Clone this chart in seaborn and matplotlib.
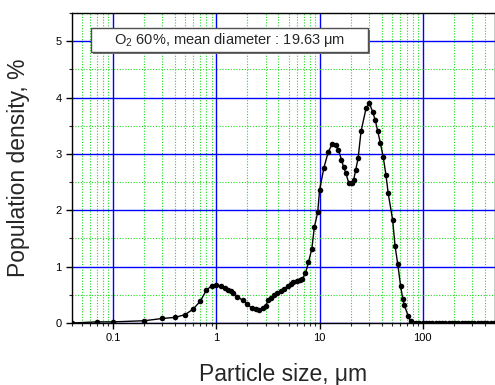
import numpy as np
import pandas as pd
import matplotlib
matplotlib.use("Agg")
import matplotlib.pyplot as plt
import seaborn as sns
from matplotlib.ticker import LogLocator, MultipleLocator, NullFormatter
from matplotlib.patches import Rectangle

# Particle size distribution
size_um = [0.04, 0.07, 0.1, 0.2, 0.3, 0.4, 0.5, 0.6, 0.7, 0.8, 0.9, 1.0,
           1.1, 1.2, 1.3, 1.4, 1.45, 1.6, 1.8, 2.0, 2.2, 2.4, 2.6, 2.8,
           3.0, 3.2, 3.4, 3.6, 3.9, 4.2, 4.5, 4.9, 5.3, 5.5, 6.0, 6.4,
           6.8, 7.3, 7.8, 8.4, 8.9, 9.6, 10.0, 11.0, 12.1, 13.2, 14.3,
           15.2, 16.3, 17.1, 17.9, 19.2, 20.4, 21.4, 22.4, 23.6, 25.2,
           28.2, 30.4, 32.6, 34.6, 36.5, 38.8, 41.3, 43.9, 46.2, 51.0,
           53.8, 57.2, 61.0, 64.0, 66.0, 72.0, 76.0,
           80, 86, 92, 100, 107, 115, 124, 133, 143, 154, 165, 178, 191,
           205, 221, 237, 255, 274, 294, 316, 340, 365, 392, 421, 453, 487]
density = [0.0, 0.02, 0.02, 0.04, 0.08, 0.10, 0.15, 0.25, 0.39, 0.58, 0.66, 0.68,
           0.65, 0.62, 0.59, 0.56, 0.54, 0.47, 0.40, 0.34, 0.26, 0.24, 0.23, 0.26,
           0.31, 0.40, 0.45, 0.49, 0.53, 0.57, 0.61, 0.65, 0.70, 0.72, 0.75, 0.77,
           0.78, 0.88, 1.08, 1.31, 1.70, 1.97, 2.36, 2.75, 3.03, 3.17, 3.16,
           3.07, 2.90, 2.76, 2.67, 2.48, 2.49, 2.54, 2.72, 2.92, 3.40,
           3.81, 3.90, 3.75, 3.60, 3.41, 3.19, 2.95, 2.63, 2.30, 1.83,
           1.37, 1.04, 0.65, 0.42, 0.32, 0.13, 0.03,
           0.0, 0.0, 0.0, 0.0, 0.0, 0.0, 0.0, 0.0, 0.0, 0.0, 0.0, 0.0, 0.0,
           0.0, 0.0, 0.0, 0.0, 0.0, 0.0, 0.0, 0.0, 0.0, 0.0, 0.0, 0.0, 0.0]

x_ticks = [0.1, 1, 10, 100]
x_labels = ["0.1", "1", "10", "100"]
y_ticks = [0, 1, 2, 3, 4, 5]
note = r"O$_\mathregular{2}$ 60%, mean diameter : 19.63 μm"

df = pd.DataFrame({"size": size_um, "density": density})

sns.set_style("ticks")
plt.rcParams["font.family"] = ["Liberation Sans", "DejaVu Sans"]
plt.rcParams["mathtext.fontset"] = "custom"
plt.rcParams["mathtext.rm"] = "Liberation Sans"

fig = plt.figure(figsize=(4.95, 3.85), dpi=100)
ax = fig.add_axes([72 / 495, 1 - 323 / 385, 423 / 495, 310 / 385])

sns.lineplot(data=df, x="size", y="density", ax=ax, color="black", lw=1,
             marker="o", markersize=4, markeredgewidth=0, zorder=3)

ax.set_xscale("log")
ax.set_xlim(0.04, 500)
ax.set_ylim(0, 5.5)
ax.set_xticks(x_ticks)
ax.set_xticklabels(x_labels)
ax.xaxis.set_minor_locator(LogLocator(base=10, subs=np.arange(2, 10)))
ax.xaxis.set_minor_formatter(NullFormatter())
ax.set_yticks(y_ticks)
ax.yaxis.set_minor_locator(MultipleLocator(0.5))

ax.set_axisbelow(True)
ax.grid(which="major", color="#0000ff", lw=1, ls="-")
ax.grid(which="minor", color="#22dd22", lw=0.8, ls=(0, (1, 1.5)))

ax.tick_params(which="major", direction="out", length=4, width=1, labelsize=8, colors="black")
ax.tick_params(which="minor", direction="out", length=2, width=0.8)
for s in ax.spines.values():
    s.set_color("black")
    s.set_linewidth(1)

ax.set_xlabel("Particle size, μm", fontsize=16.5, labelpad=14)
ax.set_ylabel("Population density, %", fontsize=16.5, labelpad=18)

# annotation box with drop shadow
ax.add_patch(Rectangle((0.0495, 0.8675), 0.655, 0.078, transform=ax.transAxes,
                       facecolor="#707070", edgecolor="none", zorder=4))
ax.add_patch(Rectangle((0.045, 0.874), 0.655, 0.078, transform=ax.transAxes,
                       facecolor="white", edgecolor="#505050", lw=1, zorder=5))
ax.text(0.373, 0.913, note, transform=ax.transAxes, ha="center", va="center",
        fontsize=10.5, zorder=6)

fig.savefig("out.png", dpi=100)
